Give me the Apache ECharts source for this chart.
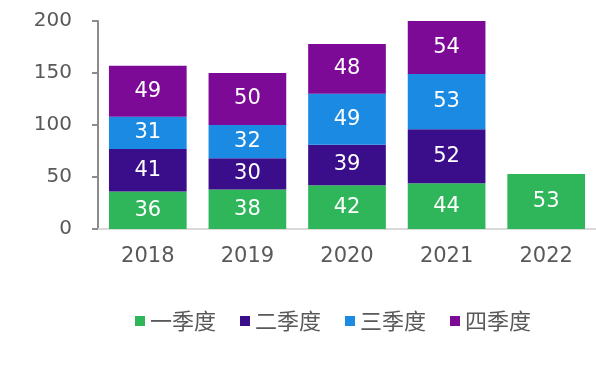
<!DOCTYPE html>
<html>
<head>
<meta charset="utf-8">
<script src="https://cdn.jsdelivr.net/npm/echarts@6/dist/echarts.min.js"></script>
<style>html,body{margin:0;padding:0;background:#fff;}#c{width:596px;height:380px;}</style>
</head>
<body>
<div id="c"></div>
<script>
const categories = ['2018', '2019', '2020', '2021', '2022'];
const seriesNames = ['一季度', '二季度', '三季度', '四季度'];
const q1 = [36, 38, 42, 44, 53];
const q2 = [41, 30, 39, 52, null];
const q3 = [31, 32, 49, 53, null];
const q4 = [49, 50, 48, 54, null];
const colors = ['#2FB65A', '#3A0E8A', '#1B8AE3', '#7D0A97'];
const yTicks = { min: 0, max: 200, interval: 50 };

const font = 'DejaVu Sans, Verdana, sans-serif';
const values = [q1, q2, q3, q4];
const chart = echarts.init(document.getElementById('c'));
chart.setOption({
  animation: false,
  textStyle: { fontFamily: font },
  grid: { left: 98, right: 0, top: 21, bottom: 151 },
  legend: {
    left: 130, top: 305, itemWidth: 10, itemHeight: 10, itemGap: 24,
    icon: 'rect',
    textStyle: { fontSize: 22, color: '#595959', fontFamily: 'Noto Sans CJK SC' },
    data: seriesNames
  },
  xAxis: {
    type: 'category', data: categories,
    axisLine: { lineStyle: { color: '#d9d9d9', width: 2 } },
    axisTick: { show: false },
    axisLabel: { color: '#595959', fontSize: 21, margin: 17 }
  },
  yAxis: {
    type: 'value', min: yTicks.min, max: yTicks.max, interval: yTicks.interval,
    axisLine: { show: true, lineStyle: { color: '#8c8c8c', width: 2 } },
    axisTick: { show: true, length: 6, lineStyle: { color: '#8c8c8c', width: 2 } },
    splitLine: { show: false },
    axisLabel: { color: '#595959', fontSize: 20, margin: 26 }
  },
  series: seriesNames.map((n, i) => ({
    name: n, type: 'bar', stack: 'total', data: values[i],
    barWidth: '78%',
    itemStyle: { color: colors[i] },
    label: { show: true, position: 'inside', color: '#fff', fontSize: 21, fontFamily: font }
  }))
});
</script>
</body>
</html>
